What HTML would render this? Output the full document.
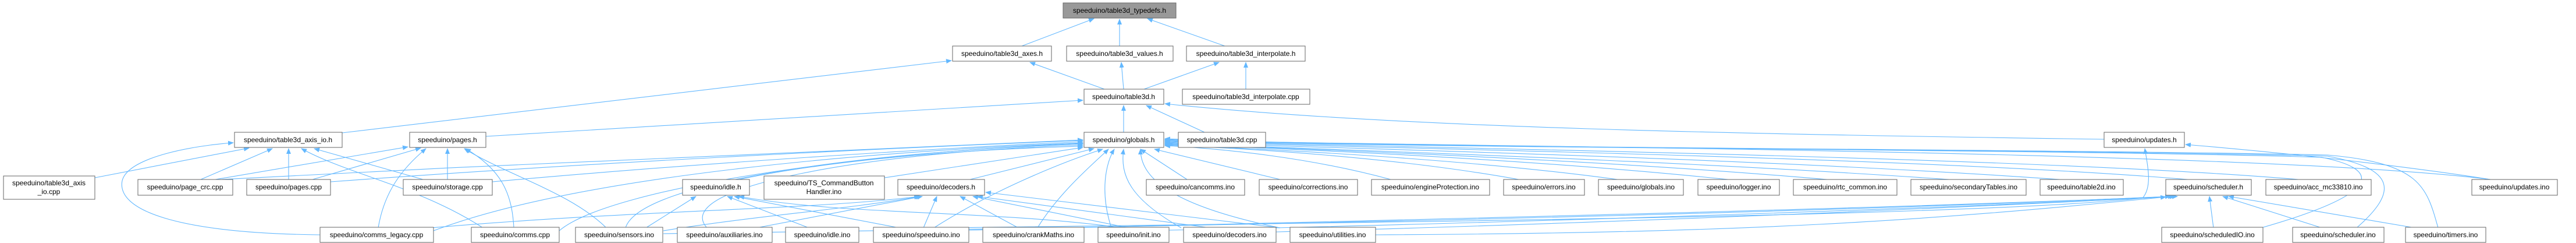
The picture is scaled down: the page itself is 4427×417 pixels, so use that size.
<!DOCTYPE html>
<html><head><meta charset="utf-8"><style>
html,body{margin:0;padding:0;background:#fff;}
svg{display:block}
text{font-family:"Liberation Sans",sans-serif;font-size:12px;fill:#000;text-anchor:middle}
rect{fill:#fff;stroke:#666;stroke-width:1}
path{fill:none;stroke:#63b8ff;stroke-width:1.1}
</style></head><body>
<svg width="4427" height="417" viewBox="0 0 4427 417" xmlns="http://www.w3.org/2000/svg">
<defs><marker id="a" markerWidth="10" markerHeight="8" refX="9" refY="4" orient="auto" markerUnits="userSpaceOnUse"><polygon points="0,0 10,4 0,8" fill="#63b8ff"/></marker></defs>
<g marker-end="url(#a)">
<!-- to typedefs -->
<path d="M1756 79 L1880 32"/>
<path d="M1924 79 L1924 33"/>
<path d="M2105 79 L1972 32"/>
<!-- to axes / values / interp.h -->
<path d="M1898 153 L1770 107"/>
<path d="M1931 153 L1927 107"/>
<path d="M1966 153 L2095 107"/>
<path d="M2141 153 L2141 107"/>
<path d="M588 228 L1635 104"/>
<!-- to table3d.h -->
<path d="M835 234 L1861 172"/>
<path d="M1931 227 L1931 181"/>
<path d="M2070 227 L1970 181"/>
<path d="M3616 239 C3000 230 2400 220 2002 178"/>
<!-- to axis_io.h -->
<path d="M163 305 L428 254"/>
<path d="M345 308 L468 255"/>
<path d="M496 308 L496 255"/>
<path d="M727 308 L540 255"/>
<path d="M830 391 C720 320 600 300 518 255"/>
<path d="M550 403 C300 400 200 360 210 310 C220 270 330 250 401 245"/>
<!-- to pages.h -->
<path d="M370 308 L701 252"/>
<path d="M537 308 L723 254"/>
<path d="M769 308 L769 255"/>
<path d="M650 391 C660 330 690 290 732 255"/>
<path d="M883 391 C880 330 860 290 800 255"/>
<path d="M1042 391 C980 330 870 300 798 255"/>
<!-- to globals.h from left -->
<path d="M380 308 C900 280 1500 255 1861 240"/>
<path d="M568 312 C1000 280 1500 255 1861 241"/>
<path d="M846 312 C1200 280 1600 255 1861 243"/>
<path d="M745 396 C1000 300 1500 260 1861 245"/>
<path d="M961 396 C1050 320 1500 260 1861 246"/>
<path d="M1075 391 C1100 310 1500 260 1861 247"/>
<path d="M1215 391 C1150 320 1500 260 1861 249"/>
<path d="M1270 308 C1450 270 1700 255 1861 251"/>
<path d="M1520 305 L1861 253"/>
<path d="M1667 308 L1880 255"/>
<path d="M1605 391 C1700 330 1820 280 1895 256"/>
<path d="M1783 391 C1820 330 1880 280 1905 256"/>
<path d="M1910 391 C1890 330 1900 280 1915 256"/>
<path d="M2030 391 C1940 340 1925 300 1931 256"/>
<path d="M2200 391 C2000 350 1960 300 1960 256"/>
<path d="M2040 308 L1960 256"/>
<path d="M2200 308 L1984 256"/>
<!-- to globals.h from right -->
<path d="M2390 308 C2250 270 2100 255 2002 250"/>
<path d="M2610 308 C2400 270 2150 255 2002 249"/>
<path d="M2780 308 C2500 270 2150 255 2002 248"/>
<path d="M2970 308 C2600 270 2200 255 2002 247"/>
<path d="M3140 308 C2700 270 2200 255 2002 246"/>
<path d="M3350 308 C2800 270 2200 255 2002 245"/>
<path d="M3540 308 C3000 270 2300 255 2002 244"/>
<path d="M3760 308 C3300 270 2400 255 2002 243"/>
<path d="M3950 308 C3500 270 2500 255 2002 242"/>
<path d="M4280 308 C3900 260 2600 252 2002 241"/>
<path d="M3886 391 C4100 330 4090 290 3990 270 C3500 255 2400 255 2002 240"/>
<path d="M4050 391 C4120 330 4120 290 4000 268 C3500 255 2400 255 2002 239"/>
<path d="M4190 391 C4170 320 4160 280 4000 266 C3500 255 2400 255 2002 238"/>
<path d="M2364 403 C3000 400 3300 380 3722 338"/>
<!-- to idle.h -->
<path d="M1110 391 L1196 337"/>
<path d="M1390 391 L1250 337"/>
<path d="M1545 391 L1262 337"/>
<path d="M1930 391 C1700 360 1450 370 1270 337"/>
<!-- to decoders.h -->
<path d="M740 391 C1100 360 1400 360 1580 337"/>
<path d="M1140 396 C1300 370 1450 360 1582 337"/>
<path d="M1300 391 L1585 337"/>
<path d="M1587 391 L1610 337"/>
<path d="M1750 391 L1650 337"/>
<path d="M1940 391 L1672 337"/>
<path d="M2080 391 L1680 337"/>
<path d="M2200 391 L1694 330"/>
<!-- to scheduler.h -->
<path d="M1140 401 C2000 390 3000 370 3730 337"/>
<path d="M1665 395 C2300 380 3200 360 3735 337"/>
<path d="M2009 395 C2500 385 3300 360 3738 337"/>
<path d="M2193 398 C2700 385 3300 360 3742 337"/>
<path d="M3804 391 L3797 337"/>
<path d="M3990 391 L3820 337"/>
<path d="M4150 391 L3830 337"/>
<!-- to updates.h -->
<path d="M1620 391 C2500 380 3400 370 3682 340 C3700 320 3690 280 3686 255"/>
<path d="M4280 308 C4100 280 3900 260 3756 248"/>
</g>
<!-- nodes -->
<rect x="1827" y="5" width="194" height="26" style="fill:#999"/><text x="1924" y="22">speeduino/table3d_typedefs.h</text>
<rect x="1637" y="79" width="170" height="26"/><text x="1722" y="96">speeduino/table3d_axes.h</text>
<rect x="1833" y="79" width="183" height="26"/><text x="1924" y="96">speeduino/table3d_values.h</text>
<rect x="2039" y="79" width="204" height="26"/><text x="2141" y="96">speeduino/table3d_interpolate.h</text>
<rect x="1863" y="153" width="137" height="26"/><text x="1931" y="170">speeduino/table3d.h</text>
<rect x="2032" y="153" width="219" height="26"/><text x="2141" y="170">speeduino/table3d_interpolate.cpp</text>
<rect x="403" y="227" width="185" height="26"/><text x="495" y="244">speeduino/table3d_axis_io.h</text>
<rect x="704" y="227" width="131" height="26"/><text x="769" y="244">speeduino/pages.h</text>
<rect x="1863" y="227" width="137" height="26"/><text x="1931" y="244">speeduino/globals.h</text>
<rect x="2025" y="227" width="150" height="26"/><text x="2100" y="244">speeduino/table3d.cpp</text>
<rect x="3616" y="227" width="138" height="26"/><text x="3685" y="244">speeduino/updates.h</text>
<rect x="6" y="302" width="157" height="40"/><text x="84" y="318">speeduino/table3d_axis</text><text x="84" y="333">_io.cpp</text>
<rect x="237" y="308" width="163" height="27"/><text x="318" y="325">speeduino/page_crc.cpp</text>
<rect x="424" y="308" width="144" height="27"/><text x="496" y="325">speeduino/pages.cpp</text>
<rect x="693" y="308" width="153" height="27"/><text x="769" y="325">speeduino/storage.cpp</text>
<rect x="1173" y="308" width="115" height="27"/><text x="1230" y="325">speeduino/idle.h</text>
<rect x="1313" y="302" width="207" height="40"/><text x="1416" y="318">speeduino/TS_CommandButton</text><text x="1416" y="333">Handler.ino</text>
<rect x="1543" y="308" width="149" height="27"/><text x="1617" y="325">speeduino/decoders.h</text>
<rect x="1970" y="308" width="169" height="27"/><text x="2054" y="325">speeduino/cancomms.ino</text>
<rect x="2164" y="308" width="169" height="27"/><text x="2248" y="325">speeduino/corrections.ino</text>
<rect x="2357" y="308" width="203" height="27"/><text x="2458" y="325">speeduino/engineProtection.ino</text>
<rect x="2584" y="308" width="139" height="27"/><text x="2653" y="325">speeduino/errors.ino</text>
<rect x="2747" y="308" width="146" height="27"/><text x="2820" y="325">speeduino/globals.ino</text>
<rect x="2918" y="308" width="140" height="27"/><text x="2988" y="325">speeduino/logger.ino</text>
<rect x="3082" y="308" width="178" height="27"/><text x="3171" y="325">speeduino/rtc_common.ino</text>
<rect x="3284" y="308" width="198" height="27"/><text x="3383" y="325">speeduino/secondaryTables.ino</text>
<rect x="3506" y="308" width="143" height="27"/><text x="3577" y="325">speeduino/table2d.ino</text>
<rect x="3722" y="308" width="147" height="27"/><text x="3795" y="325">speeduino/scheduler.h</text>
<rect x="3894" y="308" width="181" height="27"/><text x="3984" y="325">speeduino/acc_mc33810.ino</text>
<rect x="4248" y="308" width="147" height="27"/><text x="4321" y="325">speeduino/updates.ino</text>
<rect x="550" y="390" width="195" height="26"/><text x="647" y="407">speeduino/comms_legacy.cpp</text>
<rect x="810" y="390" width="151" height="26"/><text x="885" y="407">speeduino/comms.cpp</text>
<rect x="989" y="390" width="150" height="26"/><text x="1064" y="407">speeduino/sensors.ino</text>
<rect x="1164" y="390" width="163" height="26"/><text x="1245" y="407">speeduino/auxiliaries.ino</text>
<rect x="1350" y="390" width="126" height="26"/><text x="1413" y="407">speeduino/idle.ino</text>
<rect x="1501" y="390" width="164" height="26"/><text x="1583" y="407">speeduino/speeduino.ino</text>
<rect x="1689" y="390" width="174" height="26"/><text x="1776" y="407">speeduino/crankMaths.ino</text>
<rect x="1887" y="390" width="122" height="26"/><text x="1948" y="407">speeduino/init.ino</text>
<rect x="2034" y="390" width="159" height="26"/><text x="2113" y="407">speeduino/decoders.ino</text>
<rect x="2217" y="390" width="147" height="26"/><text x="2290" y="407">speeduino/utilities.ino</text>
<rect x="3715" y="390" width="174" height="26"/><text x="3802" y="407">speeduino/scheduledIO.ino</text>
<rect x="3940" y="390" width="157" height="26"/><text x="4018" y="407">speeduino/scheduler.ino</text>
<rect x="4134" y="390" width="138" height="26"/><text x="4203" y="407">speeduino/timers.ino</text>
</svg>
</body></html>
